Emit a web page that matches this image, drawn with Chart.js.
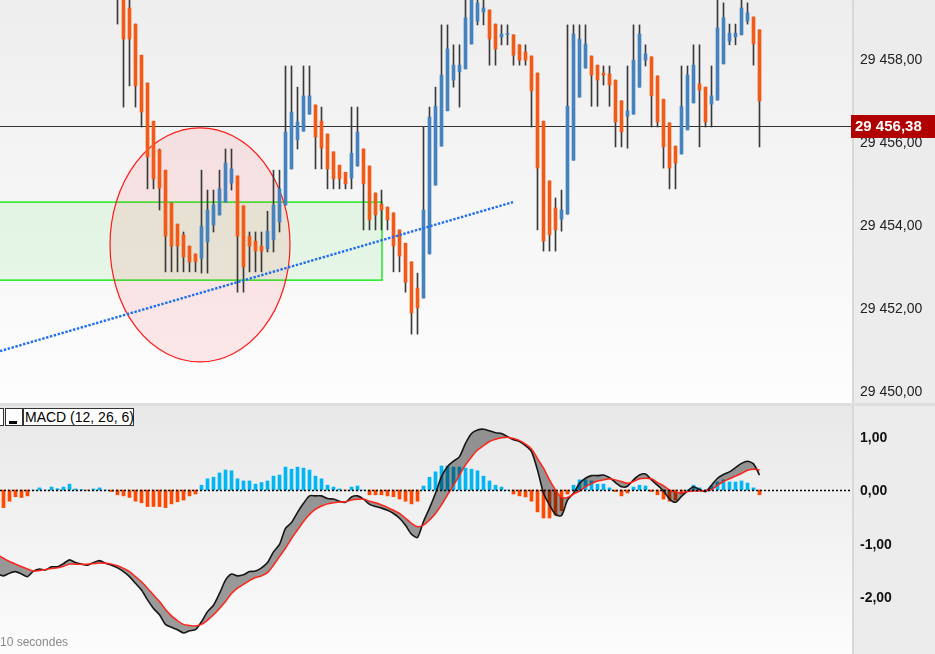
<!DOCTYPE html>
<html>
<head>
<meta charset="utf-8">
<script src="https://cdn.jsdelivr.net/npm/chart.js@4.4.1/dist/chart.umd.min.js"></script>
<style>
  html, body { margin:0; padding:0; width:935px; height:654px; overflow:hidden; background:#dedede;
    font-family:"Liberation Sans", Arial, sans-serif; }
  #pricePane { position:absolute; left:0; top:0; width:935px; height:403px; }
  #macdPane { position:absolute; left:0; top:406px; width:935px; height:248px; }
  .leg { position:absolute; top:408px; height:18px; box-sizing:border-box; border:1px solid #333;
    background:#fff; font-size:14px; line-height:16px; color:#000; padding:0 1px; white-space:nowrap; }
  .leg .bar { position:absolute; left:3px; top:12px; width:8px; height:3px; background:#000; }
  #period { position:absolute; left:0; top:635px; font-size:12px; color:#8a8a8a; }
</style>
</head>
<body>
<div id="pricePane"><canvas id="priceChart"></canvas></div>
<div id="macdPane"><canvas id="macdChart"></canvas></div>
<div class="leg" style="left:-12px;width:16px"></div>
<div class="leg" style="left:5px;width:18px"><span class="bar"></span></div>
<div class="leg" style="left:23px;width:111px">MACD (12, 26, 6)</div>
<div id="period">10 secondes</div>

<script>
// bougies visibles : index 19 à 126 (les premières sont hors cadre, au-dessus)
const candleStart = 19;
const priceOpen = [
  29460.25, 29460.00, 29459.23, 29458.84, 29458.09, 29457.42, 29456.50, 29455.81, 29455.32, 29454.53,
  29454.02, 29453.76, 29453.49, 29453.30, 29453.20, 29453.59, 29454.00, 29454.24, 29454.55, 29455.01,
  29455.18, 29454.46, 29453.73, 29453.61, 29453.49, 29453.42, 29453.64, 29454.07, 29454.48, 29455.35,
  29456.05, 29456.26, 29456.67, 29456.89, 29456.50, 29456.19, 29455.76, 29455.44, 29455.27, 29455.13,
  29455.42, 29455.83, 29455.42, 29454.77, 29454.50, 29454.43, 29454.29, 29453.88, 29453.56, 29453.11,
  29452.48, 29452.24, 29453.30, 29454.96, 29455.90, 29456.75, 29457.49, 29457.69, 29457.76, 29458.36,
  29458.91, 29459.13, 29459.18, 29458.84, 29458.53, 29458.59, 29458.58, 29458.34, 29458.17, 29458.07,
  29457.66, 29456.50, 29455.06, 29454.41, 29454.14, 29454.26, 29455.56, 29457.08, 29457.78, 29458.07,
  29457.85, 29457.66, 29457.64, 29457.49, 29456.99, 29456.62, 29456.67, 29457.32, 29457.97, 29458.05,
  29457.59, 29457.03, 29456.46, 29455.90, 29455.71, 29456.29, 29456.94, 29457.40, 29457.32, 29456.91,
  29457.01, 29457.88, 29458.43, 29458.53, 29458.58, 29458.91, 29459.01, 29458.70
];
const priceHigh = [
  29460.50, 29460.25, 29459.60, 29458.84, 29458.09, 29457.42, 29456.50, 29455.83, 29455.32, 29454.53,
  29454.02, 29453.83, 29453.49, 29453.30, 29455.32, 29454.84, 29454.84, 29455.32, 29455.83, 29455.83,
  29455.18, 29454.46, 29453.83, 29453.83, 29453.83, 29454.33, 29455.32, 29455.32, 29457.83, 29457.83,
  29457.32, 29457.83, 29457.83, 29456.89, 29456.84, 29456.19, 29455.76, 29455.44, 29455.27, 29456.84,
  29456.84, 29455.83, 29455.42, 29454.77, 29454.84, 29454.43, 29454.29, 29453.88, 29453.56, 29453.11,
  29452.84, 29456.36, 29456.84, 29457.32, 29458.82, 29458.82, 29458.34, 29458.34, 29459.54, 29459.80,
  29459.50, 29459.50, 29459.18, 29458.84, 29458.82, 29458.82, 29458.58, 29458.34, 29458.34, 29458.07,
  29457.66, 29456.50, 29455.06, 29454.65, 29454.84, 29458.82, 29458.82, 29458.82, 29458.82, 29458.07,
  29457.85, 29457.83, 29457.83, 29457.49, 29456.99, 29457.83, 29458.82, 29458.82, 29458.34, 29458.05,
  29457.59, 29457.03, 29456.46, 29455.90, 29457.83, 29457.83, 29458.34, 29458.34, 29457.32, 29457.83,
  29459.47, 29459.35, 29458.84, 29458.84, 29459.47, 29459.35, 29459.01, 29458.70
];
const priceLow = [
  29458.84, 29456.84, 29457.35, 29456.84, 29456.36, 29454.87, 29454.87, 29454.36, 29452.87, 29452.87,
  29452.87, 29452.87, 29452.87, 29452.87, 29452.84, 29452.84, 29453.83, 29454.24, 29454.55, 29454.84,
  29452.38, 29452.38, 29452.87, 29452.87, 29452.87, 29453.35, 29453.35, 29453.83, 29454.48, 29455.35,
  29455.83, 29456.26, 29456.67, 29455.35, 29455.35, 29454.87, 29454.87, 29454.87, 29454.87, 29454.87,
  29455.42, 29453.88, 29453.88, 29453.88, 29453.88, 29453.88, 29452.87, 29452.87, 29452.38, 29451.37,
  29451.37, 29452.24, 29453.30, 29454.96, 29455.90, 29456.75, 29457.32, 29456.84, 29457.76, 29458.36,
  29458.82, 29458.82, 29457.85, 29457.85, 29458.34, 29458.34, 29457.85, 29457.85, 29457.85, 29456.36,
  29453.88, 29453.37, 29453.37, 29453.37, 29453.85, 29454.26, 29455.56, 29457.08, 29457.78, 29456.86,
  29456.86, 29457.37, 29456.86, 29455.88, 29455.88, 29455.85, 29456.67, 29457.32, 29457.83, 29456.36,
  29456.36, 29455.37, 29454.87, 29454.87, 29455.71, 29456.29, 29456.94, 29455.88, 29456.36, 29456.36,
  29457.01, 29457.88, 29458.34, 29458.34, 29458.58, 29458.84, 29457.85, 29455.88
];
const priceClose = [
  29459.75, 29458.48, 29458.48, 29457.35, 29456.72, 29455.64, 29455.11, 29454.89, 29453.73, 29453.49,
  29453.49, 29453.23, 29453.11, 29453.11, 29453.97, 29454.36, 29454.48, 29454.87, 29455.49, 29455.35,
  29453.73, 29452.99, 29453.49, 29453.37, 29453.37, 29453.85, 29454.48, 29454.87, 29456.24, 29456.72,
  29456.48, 29457.11, 29457.11, 29456.12, 29455.85, 29455.35, 29455.11, 29455.11, 29454.99, 29455.73,
  29456.24, 29454.99, 29454.12, 29454.24, 29454.36, 29454.12, 29453.49, 29453.25, 29452.62, 29451.88,
  29452.00, 29454.36, 29456.60, 29456.86, 29457.61, 29458.24, 29457.85, 29457.85, 29458.99, 29459.54,
  29459.35, 29459.23, 29458.48, 29458.24, 29458.60, 29458.61, 29458.09, 29457.97, 29457.97, 29457.23,
  29455.37, 29453.61, 29453.76, 29453.88, 29454.36, 29456.86, 29458.60, 29458.48, 29458.36, 29457.61,
  29457.49, 29457.61, 29457.37, 29456.48, 29456.24, 29456.75, 29457.97, 29458.60, 29458.12, 29457.11,
  29456.48, 29455.88, 29455.37, 29455.49, 29456.86, 29457.61, 29457.85, 29457.25, 29456.48, 29457.11,
  29458.75, 29458.99, 29458.62, 29458.62, 29459.23, 29459.11, 29458.36, 29456.99
];
const priceTicks = [29450, 29452, 29454, 29456, 29458];
const lastPrice = 29456.38;

// MACD (12, 26, 6) : index -1 à 126
const macdStart = -1;
const macdLine = [
  -1.57,
  -1.61, -1.56, -1.53, -1.575, -1.625, -1.52, -1.48, -1.50, -1.44, -1.44,
  -1.38, -1.31, -1.36, -1.39, -1.41, -1.36, -1.325, -1.375, -1.41, -1.46,
  -1.53, -1.625, -1.75, -1.875, -2.06, -2.22, -2.34, -2.52, -2.575, -2.62,
  -2.68, -2.64, -2.62, -2.47, -2.28, -2.16, -1.94, -1.69, -1.575, -1.61,
  -1.59, -1.53, -1.52, -1.46, -1.36, -1.16, -1.02, -0.72, -0.61, -0.42,
  -0.25, -0.11, -0.11, -0.11, -0.16, -0.17, -0.21, -0.23, -0.13, -0.11,
  -0.17, -0.27, -0.31, -0.34, -0.38, -0.44, -0.53, -0.66, -0.83, -0.89,
  -0.59, -0.34, -0.06, 0.25, 0.44, 0.54, 0.625, 0.875, 1.06, 1.125,
  1.14, 1.11, 1.075, 1.06, 1.0, 0.94, 0.91, 0.83, 0.72, 0.375,
  -0.06, -0.28, -0.46, -0.48, -0.19, -0.06, 0.125, 0.22, 0.27, 0.27,
  0.28, 0.23, 0.14, 0.06, 0.07, 0.19, 0.28, 0.30, 0.19, 0.09,
  -0.02, -0.17, -0.23, -0.12, -0.02, 0.06, 0.01, -0.03, 0.09, 0.22,
  0.29, 0.34, 0.42, 0.50, 0.54, 0.49, 0.28
];
const signalLine = [
  -1.22,
  -1.28, -1.34, -1.39, -1.44, -1.48, -1.52, -1.51, -1.49, -1.47, -1.46,
  -1.43, -1.39, -1.39, -1.39, -1.39, -1.38, -1.37, -1.375, -1.39, -1.42,
  -1.47, -1.53, -1.625, -1.72, -1.84, -1.97, -2.09, -2.24, -2.36, -2.45,
  -2.52, -2.54, -2.55, -2.52, -2.44, -2.34, -2.22, -2.09, -1.94, -1.84,
  -1.77, -1.70, -1.64, -1.61, -1.55, -1.41, -1.25, -1.09, -0.91, -0.75,
  -0.59, -0.46, -0.36, -0.30, -0.26, -0.24, -0.225, -0.22, -0.19, -0.175,
  -0.17, -0.21, -0.24, -0.28, -0.325, -0.38, -0.44, -0.53, -0.625, -0.69,
  -0.66, -0.56, -0.44, -0.28, -0.09, 0.09, 0.28, 0.47, 0.62, 0.75,
  0.83, 0.91, 0.95, 0.98, 0.99, 0.965, 0.925, 0.86, 0.77, 0.59,
  0.41, 0.19, 0.0, -0.14, -0.14, -0.075, -0.02, 0.06, 0.12, 0.17,
  0.19, 0.21, 0.19, 0.16, 0.125, 0.16, 0.21, 0.22, 0.21, 0.14,
  0.08, 0.0, -0.04, -0.05, -0.03, -0.02, -0.02, -0.01, 0.01, 0.09,
  0.16, 0.21, 0.26, 0.31, 0.37, 0.39, 0.38
];
const macdHist = [
  -0.35,
  -0.33, -0.21, -0.125, -0.14, -0.11, 0.0, 0.04, 0.0, 0.055, 0.025,
  0.055, 0.11, 0.02, 0.01, -0.005, 0.02, 0.04, 0.0, -0.03, -0.09,
  -0.11, -0.14, -0.21, -0.24, -0.31, -0.31, -0.31, -0.33, -0.26, -0.22,
  -0.19, -0.11, -0.075, 0.09, 0.21, 0.24, 0.32, 0.375, 0.36, 0.21,
  0.17, 0.17, 0.11, 0.14, 0.17, 0.26, 0.28, 0.43, 0.39, 0.43,
  0.41, 0.375, 0.26, 0.21, 0.09, 0.055, 0.02, -0.005, 0.055, 0.075,
  0.0, -0.09, -0.09, -0.09, -0.11, -0.125, -0.17, -0.21, -0.26, -0.21,
  0.075, 0.24, 0.34, 0.45, 0.45, 0.43, 0.43, 0.41, 0.39, 0.36,
  0.26, 0.17, 0.09, 0.055, 0.0, -0.075, -0.11, -0.13, -0.21, -0.41,
  -0.525, -0.525, -0.47, -0.39, -0.075, 0.09, 0.19, 0.19, 0.17, 0.11,
  0.11, 0.04, -0.03, -0.11, -0.055, 0.055, 0.09, 0.075, -0.03, -0.09,
  -0.17, -0.21, -0.19, -0.075, 0.0, 0.09, 0.04, 0.0, 0.075, 0.15,
  0.19, 0.15, 0.15, 0.17, 0.13, 0.04, -0.09
];
const macdTicks = [-2, -1, 0, 1];

// dessins sur le graphique (en unités de données : index de bougie / prix)
const trendLine = [{ x: -0.58, y: 29450.96 }, { x: 84.92, y: 29454.55 }];
const zoneBox = { x0: -3, x1: 63.08, lo: 29452.67, hi: 29454.55 };
const circleMark = { x: 32.75, y: 29453.52, rx: 15, ry: 2.82 };

const UP = '#4682be', DOWN = '#f25a18';
const X_MIN = -0.5 - 1 / 12, X_MAX = X_MIN + 142;

function frNum(v) {
  const parts = Math.abs(v).toFixed(2).split('.');
  return (v < 0 ? '-' : '') + parts[0].replace(/\B(?=(\d{3})+(?!\d))/g, ' ') + ',' + parts[1];
}

Chart.defaults.font.family = '"Liberation Sans", Arial, sans-serif';

const panelBg = {
  id: 'panelBg',
  beforeDraw(chart, args, o) {
    const { ctx, chartArea: a, width, height } = chart;
    ctx.save();
    const g = ctx.createLinearGradient(0, a.top, 0, a.bottom);
    g.addColorStop(0, o.top);
    g.addColorStop(1, o.bottom);
    ctx.fillStyle = g;
    ctx.fillRect(a.left, a.top, a.width, a.height);
    ctx.fillStyle = '#ececec';
    ctx.fillRect(a.right, 0, width - a.right, height);
    ctx.fillStyle = '#d8d8d8';
    ctx.fillRect(a.right, 0, 2, height);
    ctx.restore();
  }
};

const drawings = {
  id: 'drawings',
  beforeDatasetsDraw(chart) {
    const { ctx, chartArea: a, scales: { x, y } } = chart;
    ctx.save();
    ctx.beginPath();
    ctx.rect(a.left, a.top, a.width, a.height);
    ctx.clip();
    // zone verte
    const bx0 = x.getPixelForValue(zoneBox.x0), bx1 = x.getPixelForValue(zoneBox.x1);
    const by0 = y.getPixelForValue(zoneBox.hi), by1 = y.getPixelForValue(zoneBox.lo);
    ctx.fillStyle = 'rgba(0,220,0,0.07)';
    ctx.fillRect(bx0, by0, bx1 - bx0, by1 - by0);
    ctx.strokeStyle = '#1eea1e';
    ctx.lineWidth = 1.5;
    ctx.strokeRect(bx0, by0, bx1 - bx0, by1 - by0);
    // cercle rouge
    const cx = x.getPixelForValue(circleMark.x), cy = y.getPixelForValue(circleMark.y);
    const rx = x.getPixelForValue(circleMark.x + circleMark.rx) - cx;
    const ry = y.getPixelForValue(circleMark.y - circleMark.ry) - cy;
    ctx.beginPath();
    ctx.ellipse(cx, cy, rx, ry, 0, 0, Math.PI * 2);
    ctx.fillStyle = 'rgba(255,30,30,0.09)';
    ctx.fill();
    ctx.strokeStyle = '#ff1a1a';
    ctx.lineWidth = 1.2;
    ctx.stroke();
    // dernier cours
    const py = Math.round(y.getPixelForValue(lastPrice)) + 0.5;
    ctx.beginPath();
    ctx.moveTo(a.left, py);
    ctx.lineTo(a.right, py);
    ctx.strokeStyle = '#333';
    ctx.lineWidth = 1;
    ctx.stroke();
    ctx.restore();
  },
  afterDraw(chart) {
    const { ctx, chartArea: a, width, scales: { y } } = chart;
    const ly = Math.round(y.getPixelForValue(lastPrice));
    ctx.save();
    ctx.fillStyle = '#b00000';
    ctx.fillRect(a.right - 1, ly - 11, width - a.right + 1, 23);
    ctx.fillStyle = '#fff';
    ctx.font = 'bold 15px "Liberation Sans", Arial, sans-serif';
    ctx.textBaseline = 'middle';
    ctx.fillText(frNum(lastPrice), a.right + 3, ly + 1);
    ctx.restore();
  }
};

const zeroLine = {
  id: 'zeroLine',
  afterDatasetsDraw(chart) {
    const { ctx, chartArea: a, scales: { y } } = chart;
    const zy = Math.round(y.getPixelForValue(0)) + 0.5;
    ctx.save();
    ctx.setLineDash([2, 2]);
    ctx.strokeStyle = '#000';
    ctx.lineWidth = 1.4;
    ctx.beginPath();
    ctx.moveTo(a.left, zy);
    ctx.lineTo(a.right, zy);
    ctx.stroke();
    ctx.restore();
  }
};

function yAxis(min, max, ticksArr, font, color) {
  return {
    position: 'right', min: min, max: max, beginAtZero: false,
    grid: { display: false, drawTicks: false }, border: { display: false },
    afterBuildTicks: s => { s.ticks = ticksArr.map(v => ({ value: v })); },
    afterFit: s => { s.width = 83; s.paddingTop = 0; s.paddingBottom = 0; },
    ticks: { padding: 8, labelOffset: 1.5, color: color, font: font, callback: v => frNum(v), autoSkip: false }
  };
}
const xAxis = { type: 'linear', display: false, min: X_MIN, max: X_MAX, offset: false, grid: { display: false } };

// --- graphique des cours ---
const idx = priceOpen.map((_, k) => candleStart + k);
new Chart(document.getElementById('priceChart'), {
  type: 'bar',
  data: {
    datasets: [
      {
        label: 'mèches', order: 2, clip: 0, grouped: false, barThickness: 1,
        backgroundColor: '#3a3a3a',
        data: idx.map((i, k) => ({ x: i, y: [priceLow[k], priceHigh[k]] }))
      },
      {
        label: 'corps', order: 1, clip: 0, grouped: false, barThickness: 3, minBarLength: 1,
        backgroundColor: idx.map((i, k) => priceClose[k] >= priceOpen[k] ? UP : DOWN),
        data: idx.map((i, k) => ({ x: i, y: [priceOpen[k], priceClose[k]] }))
      },
      {
        type: 'line', label: 'tendance', order: 0, clip: 0, data: trendLine,
        borderColor: '#1f6ef2', borderWidth: 2.4, borderDash: [2.4, 1.6], pointRadius: 0, fill: false
      }
    ]
  },
  options: {
    responsive: true, maintainAspectRatio: false, animation: false, devicePixelRatio: 1, events: [],
    layout: { padding: 0 },
    plugins: { legend: { display: false }, tooltip: { enabled: false }, panelBg: { top: '#eeeeee', bottom: '#fdfdfd' } },
    scales: {
      x: xAxis,
      y: yAxis(29449.71, 29459.42, priceTicks, { size: 14 }, '#222')
    }
  },
  plugins: [panelBg, drawings]
});

// --- MACD ---
const mIdx = macdLine.map((_, k) => macdStart + k);
new Chart(document.getElementById('macdChart'), {
  type: 'bar',
  data: {
    datasets: [
      {
        label: 'histogramme', order: 3, clip: 0, barThickness: 3, grouped: false,
        backgroundColor: macdHist.map(v => v >= 0 ? '#00b6f5' : '#ff4800'),
        data: mIdx.map((i, k) => ({ x: i, y: macdHist[k] }))
      },
      {
        type: 'line', label: 'MACD', order: 2, clip: 0,
        data: mIdx.map((i, k) => ({ x: i, y: macdLine[k] })),
        borderColor: '#161616', borderWidth: 1.6, tension: 0.25, pointRadius: 0,
        fill: '+1', backgroundColor: 'rgba(0,0,0,0.38)'
      },
      {
        type: 'line', label: 'signal', order: 1, clip: 0,
        data: mIdx.map((i, k) => ({ x: i, y: signalLine[k] })),
        borderColor: '#ff2418', borderWidth: 1.5, tension: 0.3, pointRadius: 0, fill: false
      }
    ]
  },
  options: {
    responsive: true, maintainAspectRatio: false, animation: false, devicePixelRatio: 1, events: [],
    layout: { padding: 0 },
    plugins: { legend: { display: false }, tooltip: { enabled: false }, panelBg: { top: '#e8e8e8', bottom: '#fcfcfc' } },
    scales: {
      x: xAxis,
      y: yAxis(-3.075, 1.575, macdTicks, { size: 14, weight: 'bold' }, '#111')
    }
  },
  plugins: [panelBg, zeroLine]
});
</script>
</body>
</html>
